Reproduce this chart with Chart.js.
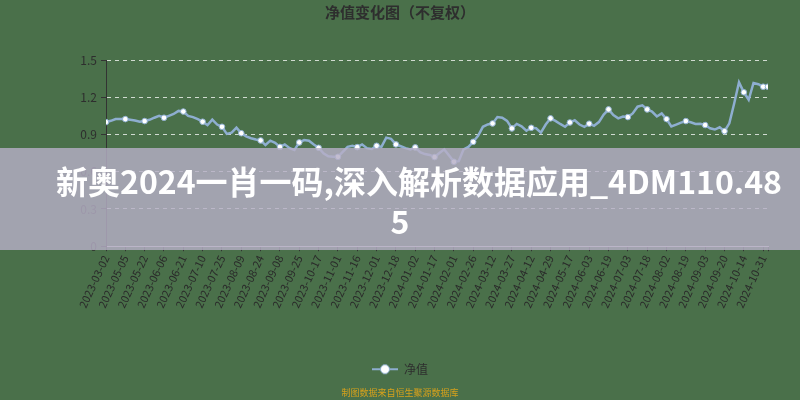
<!DOCTYPE html>
<html>
<head>
<meta charset="utf-8">
<script src="https://cdn.jsdelivr.net/npm/chart.js@4"></script>
<style>
  html, body { margin: 0; padding: 0; }
  body { width: 800px; height: 400px; background: #4a704a; position: relative; overflow: hidden; }
  #wrap { position: absolute; left: 0; top: 0; width: 800px; height: 400px; }
  #banner {
    position: absolute; left: 0; top: 148px; width: 800px; height: 102px;
    background: rgba(182, 174, 198, 0.82); color: #fff;
    font-family: "Noto Sans CJK SC", sans-serif; font-weight: bold;
    font-size: 32px; line-height: 40px; text-align: center;
    box-sizing: border-box; padding-top: 12px; white-space: nowrap;
  }
  #banner .l1 { padding-left: 38px; }
</style>
</head>
<body>
<div id="wrap"><canvas id="grafico" width="800" height="400"></canvas></div>
<div id="banner"><div class="l1">新奥2024一肖一码,深入解析数据应用_4DM110.48</div><div>5</div></div>
<script>
// Datas mostradas no eixo x
const dateLabels = [
  "2023-03-02", "2023-05-05", "2023-05-22", "2023-06-06", "2023-06-21", "2023-07-10",
  "2023-07-25", "2023-08-09", "2023-08-24", "2023-09-08", "2023-09-25", "2023-10-17",
  "2023-11-01", "2023-11-16", "2023-12-01", "2023-12-18", "2024-01-02", "2024-01-17",
  "2024-02-01", "2024-02-26", "2024-03-12", "2024-03-27", "2024-04-12", "2024-04-29",
  "2024-05-17", "2024-06-03", "2024-06-19", "2024-07-03", "2024-07-18", "2024-08-02",
  "2024-08-19", "2024-09-03", "2024-09-20", "2024-10-14", "2024-10-31"
];

// Valores do 净值, 4 pontos por intervalo de data
const netValues = [
  1.00, 1.01, 1.025, 1.025,   1.024, 1.018, 1.012, 1.003,
  1.008, 1.018, 1.035, 1.05,  1.035, 1.05, 1.065, 1.09,
  1.085, 1.05, 1.04, 1.024,   1.003, 0.975, 1.02, 0.98,
  0.962, 0.905, 0.915, 0.955, 0.91, 0.885, 0.87, 0.86,
  0.852, 0.815, 0.85, 0.833,  0.80, 0.82, 0.79, 0.775,
  0.836, 0.855, 0.85, 0.82,   0.793, 0.748, 0.725, 0.72,
  0.72, 0.76, 0.80, 0.809,    0.798, 0.82, 0.79, 0.783,
  0.809, 0.80, 0.875, 0.865,  0.82, 0.805, 0.79, 0.78,
  0.796, 0.757, 0.742, 0.735, 0.718, 0.75, 0.78, 0.73,
  0.68, 0.685, 0.78, 0.80,    0.841, 0.89, 0.962, 0.981,
  0.989, 1.04, 1.035, 1.01,   0.949, 0.985, 0.965, 0.93,
  0.954, 0.95, 0.915, 0.98,   1.03, 1.01, 0.985, 0.962,
  0.997, 1.015, 0.98, 0.962,  0.987, 0.97, 1.0, 1.06,
  1.102, 1.056, 1.03, 1.045,  1.04, 1.07, 1.124, 1.135,
  1.102, 1.085, 1.045, 1.07,  1.024, 0.965, 0.98, 0.995,
  1.008, 0.998, 0.985, 0.987, 0.976, 0.95, 0.94, 0.958,
  0.927, 0.99, 1.15, 1.32,    1.24, 1.18, 1.315, 1.305,
  1.285, 1.285
];

const yTicks = [0, 0.3, 0.6, 0.9, 1.2, 1.5];
const pointsPerLabel = 4;
const seriesName = "净值";

const lineColor = "#8eaed0";

// Ícone da legenda: linha com círculo
const legendIcon = document.createElement("canvas");
legendIcon.width = 26;
legendIcon.height = 12;
(function () {
  const c = legendIcon.getContext("2d");
  c.strokeStyle = lineColor;
  c.lineWidth = 2;
  c.beginPath(); c.moveTo(0, 6); c.lineTo(26, 6); c.stroke();
  c.fillStyle = "#fff";
  c.beginPath(); c.arc(13, 6, 4.5, 0, Math.PI * 2); c.fill();
  c.lineWidth = 1; c.stroke();
})();

Chart.defaults.font.family = '"Noto Sans CJK SC", "Noto Sans", sans-serif';
Chart.defaults.color = "#333";

const lastIndex = netValues.length - 1;
const xMax = lastIndex / pointsPerLabel;

new Chart(document.getElementById("grafico").getContext("2d"), {
  type: "line",
  data: {
    datasets: [{
      label: seriesName,
      data: netValues.map((v, i) => ({ x: i / pointsPerLabel, y: v })),
      borderColor: lineColor,
      borderWidth: 2.5,
      tension: 0,
      pointRadius: ctx => (ctx.dataIndex % pointsPerLabel === 0 || ctx.dataIndex === lastIndex) ? 2.8 : 0,
      pointBackgroundColor: "#fff",
      pointBorderColor: lineColor,
      pointBorderWidth: 1
    }]
  },
  options: {
    responsive: false,
    animation: false,
    layout: { padding: 0 },
    plugins: {
      title: {
        display: true,
        text: "净值变化图（不复权）",
        color: "#2e2e2e",
        font: { size: 15, weight: "bold" },
        padding: { top: 3, bottom: 39 }
      },
      subtitle: {
        display: true,
        position: "bottom",
        text: "制图数据来自恒生聚源数据库",
        color: "#d6a11c",
        font: { size: 9 },
        padding: { top: 2, bottom: 2 }
      },
      legend: {
        position: "bottom",
        labels: {
          usePointStyle: true,
          pointStyle: legendIcon,
          pointStyleWidth: 26,
          color: "#2e2e2e",
          font: { size: 12 },
          padding: 10
        }
      },
      tooltip: { enabled: false }
    },
    scales: {
      x: {
        type: "linear",
        min: 0,
        max: xMax,
        afterBuildTicks: scale => {
          scale.ticks = dateLabels.map((d, i) => ({ value: i })).concat([{ value: xMax }]);
        },
        afterFit: scale => { scale.height = 107; },
        ticks: {
          autoSkip: false,
          minRotation: 65,
          maxRotation: 65,
          color: "#2a2a2a",
          font: { size: 11 },
          padding: 2,
          callback: (v, i) => dateLabels[i] || ""
        },
        grid: { drawOnChartArea: false, drawTicks: true, tickLength: 5, tickColor: "#333" },
        border: { color: "#cfcfcf", width: 1 }
      },
      y: {
        min: 0,
        max: 1.5,
        afterBuildTicks: scale => {
          scale.ticks = yTicks.map(v => ({ value: v }));
        },
        afterFit: scale => { scale.width = 106; },
        ticks: {
          color: "#2e2e2e",
          font: { size: 12 },
          padding: 4,
          callback: (v, i) => String(yTicks[i])
        },
        grid: { color: "rgba(255,255,255,0.75)", tickColor: "#333", tickLength: 5 },
        border: { color: "#333", width: 1, dash: [4, 4] }
      },
      // eixo vazio à direita, só para reservar a margem
      yDir: {
        position: "right",
        afterFit: scale => { scale.width = 32; },
        ticks: { display: false },
        grid: { display: false },
        border: { display: false }
      }
    }
  }
});
</script>
</body>
</html>
